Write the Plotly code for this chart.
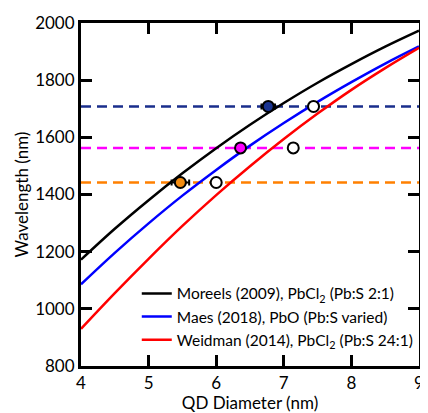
import plotly.graph_objects as go

# Sizing curves
diam = [4.0, 4.5, 5.0, 5.5, 6.0, 6.5, 7.0, 7.5, 8.0, 8.5, 9.0]
moreels = [1172, 1280, 1380, 1474, 1562, 1644, 1720, 1791, 1856, 1917, 1973]
maes = [1086, 1196, 1299, 1396, 1486, 1571, 1650, 1724, 1793, 1858, 1918]
weidman = [930, 1055, 1175, 1290, 1398, 1499, 1594, 1683, 1766, 1842, 1913]

curve_names = [
    "Moreels (2009), PbCl<sub>2</sub> (Pb:S 2:1)",
    "Maes (2018), PbO (Pb:S varied)",
    "Weidman (2014), PbCl<sub>2</sub> (Pb:S 24:1)",
]
curve_colors = ["#000000", "#0000ff", "#ff0000"]

# Emission wavelengths (dashed reference lines)
ref_wl = [1708, 1563, 1442]
ref_colors = ["#1a2e8c", "#ff00ff", "#ff8000"]

# Measured sizes (filled) and predicted sizes (open)
meas_d = [6.77, 6.36, 5.47]
meas_err = [0.10, 0.0, 0.13]
meas_fill = ["#1a3390", "#ff00ff", "#f28c12"]
pred_d = [7.44, 7.14, 6.0]

x_ticks = [4, 5, 6, 7, 8, 9]
y_ticks = [800, 1000, 1200, 1400, 1600, 1800, 2000]

FONT = "Lato"

fig = go.Figure()

for wl, col in zip(ref_wl, ref_colors):
    fig.add_trace(go.Scatter(
        x=[x_ticks[0], x_ticks[-1]], y=[wl, wl], mode="lines",
        line=dict(color=col, width=2.5, dash="10px,6px"),
        showlegend=False, hoverinfo="skip"))

for ys, name, col in zip([moreels, maes, weidman], curve_names, curve_colors):
    fig.add_trace(go.Scatter(
        x=diam, y=ys, mode="lines", name=name,
        line=dict(color=col, width=2.5, shape="spline")))

for d, wl, err, col in zip(meas_d, ref_wl, meas_err, meas_fill):
    fig.add_trace(go.Scatter(
        x=[d], y=[wl], mode="markers",
        marker=dict(size=11, color=col, line=dict(color="black", width=2)),
        error_x=dict(type="data", array=[err], color="black", thickness=2, width=3,
                     visible=err > 0),
        showlegend=False))

fig.add_trace(go.Scatter(
    x=pred_d, y=ref_wl, mode="markers",
    marker=dict(size=11, color="white", line=dict(color="black", width=2)),
    showlegend=False))

axis_common = dict(
    showline=True, linecolor="black", linewidth=3, mirror="ticks",
    ticks="inside", ticklen=11, tickwidth=3, tickcolor="black",
    showgrid=False, zeroline=False,
    tickfont=dict(family=FONT, size=17, color="black"),
)

fig.update_xaxes(range=[4, 9], tickvals=x_ticks,
                 title=dict(text="QD Diameter (nm)", font=dict(family=FONT, size=17, color="black"), standoff=4),
                 **axis_common)
fig.update_yaxes(range=[800, 2000], tickvals=y_ticks,
                 title=dict(text="Wavelength (nm)", font=dict(family=FONT, size=17, color="black"), standoff=3),
                 **axis_common)

# page body has an 8px default margin, so the figure is offset by 8px
fig.update_layout(
    width=420, height=405,
    margin=dict(l=73, r=4, t=14, b=47),
    plot_bgcolor="white", paper_bgcolor="white",
    font=dict(family=FONT, color="black"),
    legend=dict(x=0.165, y=0.26, xanchor="left", yanchor="top",
                bgcolor="rgba(0,0,0,0)", font=dict(family=FONT, size=15.5, color="black"),
                tracegroupgap=0),
)

fig.write_html("out.html")
